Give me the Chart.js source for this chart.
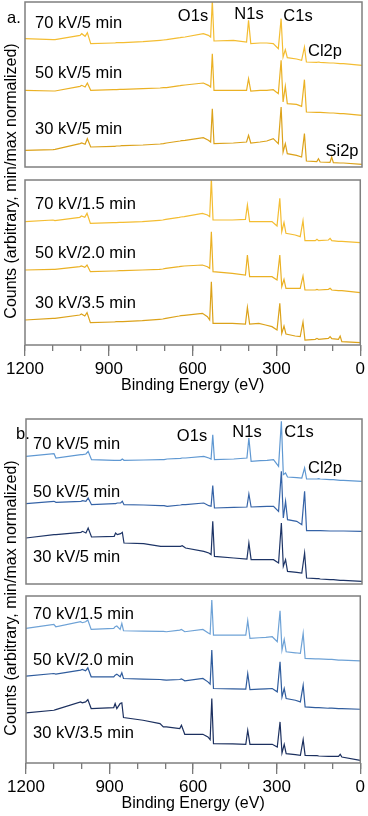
<!DOCTYPE html>
<html>
<head>
<meta charset="utf-8">
<script src="https://cdn.jsdelivr.net/npm/chart.js@4.4.0/dist/chart.umd.min.js"></script>
<style>
body { margin: 0; background: #fff; }
#fig { position: relative; width: 368px; height: 816px; font-family: "Liberation Sans", Arial, sans-serif; color: #000; overflow: hidden; }
canvas { position: absolute; left: 0; }
.lab { position: absolute; white-space: nowrap; font-size: 16.5px; line-height: 20px; transform: translateY(-50%); }
.cen { transform: translate(-50%, -50%); }
.ylab { position: absolute; white-space: nowrap; font-size: 16px; line-height: 20px; transform: translate(-50%, -50%) rotate(-90deg); }
</style>
</head>
<body>
<div id="fig">
  <canvas id="aTop" width="368" height="170" style="top:0px"></canvas>
  <canvas id="aBot" width="368" height="217" style="top:178px"></canvas>
  <canvas id="bTop" width="368" height="170" style="top:417px"></canvas>
  <canvas id="bBot" width="368" height="219" style="top:594px"></canvas>
</div>
<script>
// energia de enlace (eV), comun a todos los espectros
const energia = [1200, 1100, 1093, 1004, 998, 986, 978, 966, 885, 880, 874, 862, 856, 850, 780, 719, 707, 696, 648, 642, 630, 565, 547, 539, 533, 527, 458, 411, 404, 396, 363, 339, 316, 298, 288, 281, 273, 266, 233, 215, 205, 198, 161, 155, 149, 114, 108, 102, 78, 72, 66, 0];

// panel a, arriba (5 min)
const a70_5 = [385, 382, 382, 395, 400, 392, 403, 370, 372, 372, 373, 373, 373, 373, 376, 380, 381, 382, 388, 389, 390, 400, 395, 390, 500, 378, 380, 375, 440, 370, 372, 372, 370, 355, 445, 330, 352, 328, 324, 320, 360, 315, 314, 315, 314, 312, 312, 312, 310, 310, 310, 305];
const a50_5 = [230, 228, 228, 242, 245, 240, 252, 230, 232, 232, 232, 233, 233, 233, 235, 237, 238, 238, 244, 245, 246, 252, 245, 240, 340, 230, 230, 230, 265, 228, 230, 230, 232, 220, 320, 195, 242, 190, 188, 182, 262, 165, 164, 164, 164, 162, 162, 162, 160, 160, 160, 155];
const a30_5 = [50, 52, 53, 70, 72, 68, 85, 60, 62, 62, 63, 63, 64, 64, 66, 69, 70, 72, 78, 79, 80, 88, 80, 75, 175, 70, 72, 75, 95, 72, 75, 78, 85, 70, 180, 45, 70, 40, 35, 30, 100, 18, 16, 25, 15, 14, 30, 13, 12, 12, 12, 8];
// panel a, abajo
const a70_15 = [370, 375, 373, 383, 387, 383, 395, 365, 367, 367, 367, 368, 368, 368, 370, 374, 375, 377, 383, 384, 385, 395, 390, 385, 500, 375, 375, 377, 420, 370, 370, 370, 370, 357, 440, 340, 368, 335, 330, 325, 373, 313, 313, 317, 313, 315, 320, 313, 311, 311, 311, 307];
const a50_20 = [225, 227, 227, 235, 237, 233, 240, 220, 222, 222, 222, 223, 223, 223, 225, 227, 228, 230, 235, 236, 237, 240, 235, 230, 340, 220, 215, 210, 270, 205, 205, 205, 205, 195, 270, 175, 197, 170, 170, 170, 207, 165, 165, 167, 165, 167, 170, 165, 163, 163, 163, 157];
const a30_35 = [75, 80, 80, 90, 93, 87, 97, 67, 69, 69, 70, 70, 70, 70, 73, 77, 78, 80, 87, 88, 89, 95, 85, 75, 190, 65, 65, 63, 113, 63, 65, 60, 55, 45, 125, 35, 57, 33, 27, 25, 69, 15, 17, 20, 17, 20, 25, 19, 17, 27, 10, 7];

// panel b, arriba
const b70_5 = [383, 391, 378, 388, 388, 390, 398, 373, 371, 371, 371, 371, 375, 371, 372, 373, 373, 375, 377, 378, 378, 383, 378, 375, 448, 373, 375, 378, 438, 368, 370, 371, 373, 353, 488, 328, 333, 321, 319, 318, 348, 315, 315, 316, 315, 313, 313, 313, 311, 311, 311, 308];
const b50_5 = [241, 248, 245, 248, 250, 248, 258, 238, 241, 241, 243, 243, 248, 238, 237, 235, 235, 233, 237, 238, 238, 243, 235, 233, 295, 228, 230, 231, 270, 231, 232, 233, 233, 218, 338, 198, 248, 193, 188, 178, 278, 160, 160, 160, 160, 159, 159, 159, 159, 159, 159, 158];
const b30_5 = [138, 148, 148, 155, 158, 153, 168, 141, 143, 153, 148, 151, 155, 123, 121, 113, 113, 113, 113, 115, 108, 98, 93, 88, 188, 83, 78, 75, 123, 73, 73, 73, 73, 63, 183, 53, 73, 38, 35, 33, 93, 18, 16, 16, 15, 13, 13, 13, 11, 11, 11, 8];
// panel b, abajo
const b70_15 = [403, 415, 408, 423, 420, 423, 428, 400, 403, 408, 410, 400, 418, 396, 395, 394, 394, 393, 398, 400, 393, 400, 390, 386, 488, 383, 383, 383, 426, 373, 375, 376, 378, 363, 456, 338, 370, 333, 330, 328, 388, 313, 312, 312, 312, 310, 310, 310, 308, 308, 308, 306];
const b50_20 = [260, 268, 266, 278, 280, 276, 285, 258, 258, 263, 266, 258, 270, 253, 251, 250, 249, 248, 250, 252, 246, 253, 243, 236, 338, 223, 222, 221, 268, 220, 221, 222, 223, 213, 303, 198, 223, 193, 188, 183, 233, 168, 166, 166, 166, 164, 164, 164, 163, 163, 163, 161];
const b30_35 = [150, 158, 160, 183, 180, 183, 190, 163, 166, 178, 163, 178, 180, 136, 128, 118, 108, 108, 103, 113, 86, 86, 78, 70, 193, 58, 57, 56, 98, 56, 56, 56, 56, 48, 123, 30, 56, 28, 25, 23, 70, 23, 22, 22, 21, 20, 20, 20, 20, 26, 18, 8];

const xTicks = [1200, 900, 600, 300, 0];

const amarillos = ['#f4bd32', '#ebb124', '#dca21a'];
const azulesArriba = ['#5f98d2', '#3563a7', '#1d3466'];
const azulesAbajo = ['#6ea2d6', '#2f5c9d', '#1c305f'];

// dibuja el recuadro gris alrededor del area
const marco = {
  id: 'marco',
  afterDraw: function (chart) {
    const a = chart.chartArea;
    const ctx = chart.ctx;
    ctx.save();
    ctx.strokeStyle = '#7f7f7f';
    ctx.lineWidth = 1.5;
    ctx.strokeRect(a.left, a.top, a.right - a.left, a.bottom - a.top);
    ctx.restore();
  }
};

function crearPanel(id, series, colores, conEje, ymax, izq) {
  const datasets = series.map(function (s, k) {
    return {
      data: energia.map(function (e, i) { return { x: e, y: s[i] }; }),
      borderColor: colores[k],
      borderWidth: 1.2,
      pointRadius: 0,
      tension: 0,
      fill: false
    };
  });

  const scales = {
    y: { display: false, min: 0, max: ymax },
    x: { type: 'linear', reverse: true, min: 0, max: 1200, display: false }
  };
  if (conEje) {
    scales.x = {
      type: 'linear', reverse: true, min: 0, max: 1200,
      position: 'bottom', weight: 1,
      border: { display: false },
      grid: { drawOnChartArea: false, drawTicks: true, tickLength: 11, color: '#7a7a7a', lineWidth: 1.3 },
      afterBuildTicks: function (s) { s.ticks = xTicks.map(function (v) { return { value: v }; }); },
      ticks: {
        autoSkip: false, maxRotation: 0, padding: 3, color: '#000',
        font: { size: 17, family: 'Liberation Sans' },
        callback: function (v) { return String(v); }
      },
      title: { display: true, text: 'Binding Energy (eV)', color: '#000', padding: 0, font: { size: 16, family: 'Liberation Sans' } },
      afterFit: function (s) { s.height = 50; }
    };
    // ticks menores cada 100 eV
    scales.x2 = {
      type: 'linear', reverse: true, min: 0, max: 1200,
      position: 'bottom', weight: 0,
      border: { display: false },
      grid: { drawOnChartArea: false, drawTicks: true, tickLength: 6, color: '#7a7a7a', lineWidth: 1.3 },
      ticks: { display: false, stepSize: 100, autoSkip: false },
      afterFit: function (s) { s.height = 0; }
    };
  }

  new Chart(document.getElementById(id), {
    type: 'line',
    data: { datasets: datasets },
    options: {
      responsive: false,
      animation: false,
      events: [],
      layout: { padding: { left: izq, right: 6, top: 2, bottom: conEje ? 0 : 3 } },
      plugins: { legend: { display: false }, tooltip: { enabled: false } },
      scales: scales
    },
    plugins: [marco]
  });
}

crearPanel('aTop', [a70_5, a50_5, a30_5], amarillos, false, 495, 25);
crearPanel('aBot', [a70_15, a50_20, a30_35], amarillos, true, 495, 25);
crearPanel('bTop', [b70_5, b50_5, b30_5], azulesArriba, false, 495, 26);
crearPanel('bBot', [b70_15, b50_20, b30_35], azulesAbajo, true, 500, 26);

// textos
const fig = document.getElementById('fig');
function lab(txt, x, y, centrado) {
  const d = document.createElement('div');
  d.className = centrado ? 'lab cen' : 'lab';
  d.style.left = x + 'px';
  d.style.top = y + 'px';
  d.textContent = txt;
  fig.appendChild(d);
}
function ylab(x, y) {
  const d = document.createElement('div');
  d.className = 'ylab';
  d.style.left = x + 'px';
  d.style.top = y + 'px';
  d.textContent = 'Counts (arbitrary, min/max normalized)';
  fig.appendChild(d);
}

lab('a.', 7, 17);
lab('70 kV/5 min', 35, 22);
lab('50 kV/5 min', 35, 72);
lab('30 kV/5 min', 35, 128);
lab('O1s', 193, 15, true);
lab('N1s', 249, 13, true);
lab('C1s', 298, 15, true);
lab('Cl2p', 325, 50, true);
lab('Si2p', 342, 150, true);
lab('70 kV/1.5 min', 35, 203);
lab('50 kV/2.0 min', 35, 252);
lab('30 kV/3.5 min', 35, 302);
ylab(11, 181);

lab('b.', 16, 433);
lab('70 kV/5 min', 33, 443);
lab('50 kV/5 min', 33, 491);
lab('30 kV/5 min', 33, 556);
lab('O1s', 192, 435, true);
lab('N1s', 247, 431, true);
lab('C1s', 299, 431, true);
lab('Cl2p', 325, 467, true);
lab('70 kV/1.5 min', 33, 613);
lab('50 kV/2.0 min', 33, 659);
lab('30 kV/3.5 min', 33, 732);
ylab(11, 598);
</script>
</body>
</html>
